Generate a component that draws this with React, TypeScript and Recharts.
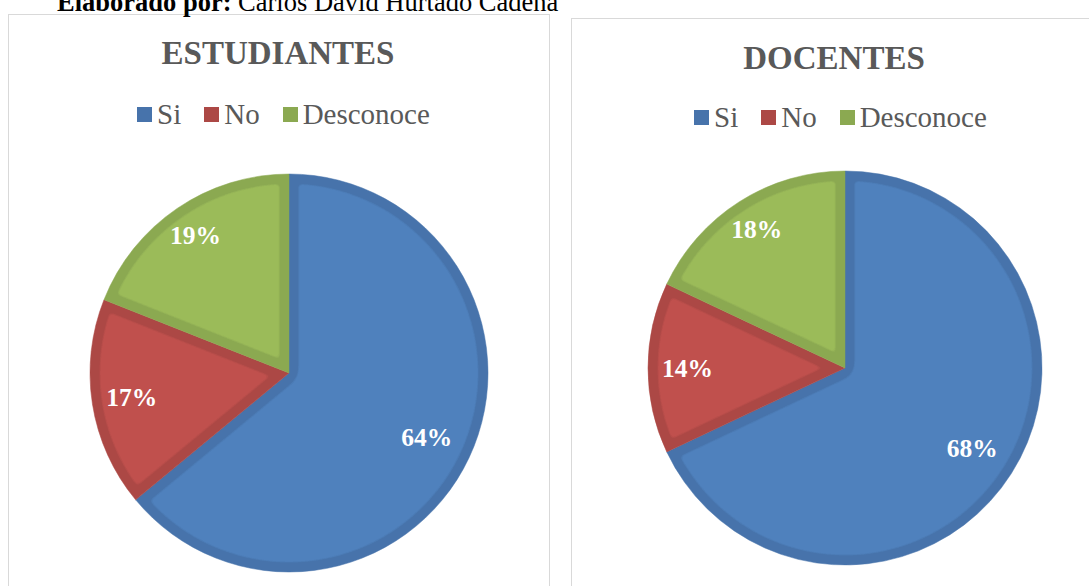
import React from 'react';
import { PieChart, Pie, Cell } from 'recharts';

const CATEGORIES = ['Si', 'No', 'Desconoce'];
const ESTUDIANTES_VALUES = [64, 17, 19];
const DOCENTES_VALUES = [68, 14, 18];
const TITLES = ['ESTUDIANTES', 'DOCENTES'];
const CREDIT_BOLD = 'Elaborado por:';
const CREDIT_TEXT = ' Carlos David Hurtado Cadena';

const FILL = ['#4F81BD', '#C0504D', '#9BBB59'];
const BAND = ['#4773AB', '#AC4845', '#8BA951'];
const LABEL_R = [0.765, 0.8, 0.835];
const SERIF = '"Liberation Serif", "Times New Roman", serif';
const RAD = Math.PI / 180;

const estudiantesData = CATEGORIES.map((name, i) => ({ name, value: ESTUDIANTES_VALUES[i] }));
const docentesData = CATEGORIES.map((name, i) => ({ name, value: DOCENTES_VALUES[i] }));

const renderLabel = (props: any) => {
  const { cx, cy, midAngle, outerRadius, index } = props;
  const value = props.value ?? props.payload?.value;
  const r = outerRadius * LABEL_R[index];
  const x = cx + r * Math.cos(-midAngle * RAD);
  const y = cy + r * Math.sin(-midAngle * RAD);
  return (
    <text
      x={x}
      y={y + 8.5}
      textAnchor="middle"
      fill="#FFFFFF"
      fontSize={25.5}
      fontWeight="bold"
      fontFamily={SERIF}
    >
      {`${value}%`}
    </text>
  );
};

const Legend = ({ left, top }: { left: number; top: number }) => (
  <div
    style={{
      position: 'absolute',
      left,
      top,
      display: 'flex',
      alignItems: 'center',
      fontFamily: SERIF,
      fontSize: 29,
      lineHeight: '29px',
      color: '#595959',
      whiteSpace: 'nowrap',
    }}
  >
    {CATEGORIES.map((c, i) => (
      <div key={c} style={{ display: 'flex', alignItems: 'center', marginLeft: i === 0 ? 0 : 23 }}>
        <span style={{ display: 'inline-block', width: 15, height: 15, background: BAND[i], marginRight: 5 }} />
        <span>{c}</span>
      </div>
    ))}
  </div>
);

export default function App() {
  return (
    <div
      style={{
        position: 'absolute',
        left: 0,
        top: 0,
        width: 1089,
        height: 586,
        overflow: 'hidden',
        background: '#FFFFFF',
      }}
    >
      <svg width={0} height={0} style={{ position: 'absolute' }}>
        <defs>
          {FILL.map((f, i) => (
            <filter
              key={i}
              id={`inset${i}`}
              x="-10%"
              y="-10%"
              width="120%"
              height="120%"
              colorInterpolationFilters="sRGB"
            >
              <feGaussianBlur in="SourceAlpha" stdDeviation="5.4" result="b" />
              <feComponentTransfer in="b" result="t">
                <feFuncA type="linear" slope="40" intercept="-38.5" />
              </feComponentTransfer>
              <feFlood floodColor={f} result="fl" />
              <feComposite in="fl" in2="t" operator="in" result="inner" />
              <feMerge>
                <feMergeNode in="SourceGraphic" />
                <feMergeNode in="inner" />
              </feMerge>
            </filter>
          ))}
        </defs>
      </svg>

      <div
        style={{
          position: 'absolute',
          left: 8,
          top: 14,
          width: 540,
          height: 620,
          border: '1.5px solid #D9D9D9',
        }}
      />
      <div
        style={{
          position: 'absolute',
          left: 571,
          top: 18,
          width: 540,
          height: 620,
          border: '1.5px solid #D9D9D9',
        }}
      />

      <svg width={1089} height={140} style={{ position: 'absolute', left: 0, top: 0 }}>
        <text x={57} y={11} fontFamily={SERIF} fontSize={26.5} fill="#000000">
          <tspan fontWeight="bold">{CREDIT_BOLD}</tspan>
          <tspan>{CREDIT_TEXT}</tspan>
        </text>
        <text x={278} y={64} textAnchor="middle" fontFamily={SERIF} fontSize={33} fontWeight="bold" fill="#595959">
          {TITLES[0]}
        </text>
        <text x={834} y={69} textAnchor="middle" fontFamily={SERIF} fontSize={33} fontWeight="bold" fill="#595959">
          {TITLES[1]}
        </text>
      </svg>

      <Legend left={137} top={100} />
      <Legend left={694} top={103} />

      <div style={{ position: 'absolute', left: 0, top: 0 }}>
        <PieChart width={1089} height={586} margin={{ top: 0, right: 0, bottom: 0, left: 0 }}>
          <Pie
            data={estudiantesData}
            dataKey="value"
            nameKey="name"
            cx={289}
            cy={373}
            outerRadius={199}
            startAngle={90}
            endAngle={-270}
            stroke="none"
            labelLine={false}
            label={renderLabel}
            isAnimationActive={false}
          >
            {estudiantesData.map((d, i) => (
              <Cell key={d.name} fill={BAND[i]} stroke={BAND[i]} strokeWidth={0.5} filter={`url(#inset${i})`} />
            ))}
          </Pie>
          <Pie
            data={docentesData}
            dataKey="value"
            nameKey="name"
            cx={845}
            cy={368}
            outerRadius={197}
            startAngle={90}
            endAngle={-270}
            stroke="none"
            labelLine={false}
            label={renderLabel}
            isAnimationActive={false}
          >
            {docentesData.map((d, i) => (
              <Cell key={d.name} fill={BAND[i]} stroke={BAND[i]} strokeWidth={0.5} filter={`url(#inset${i})`} />
            ))}
          </Pie>
        </PieChart>
      </div>
    </div>
  );
}
